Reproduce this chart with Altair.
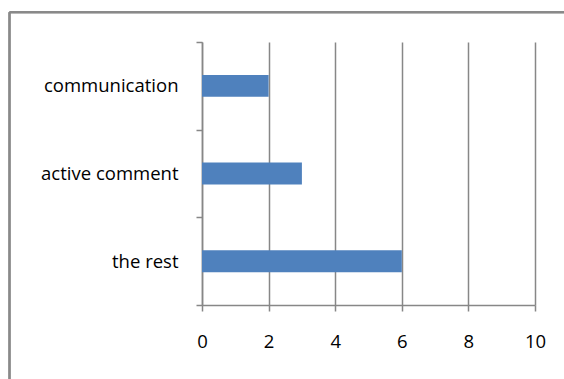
import altair as alt
import pandas as pd

categories = ["communication", "active comment", "the rest"]
values = [2, 3, 6]
x_ticks = [0, 2, 4, 6, 8, 10]

n = len(categories)
df = pd.DataFrame({
    "category": categories,
    "value": values,
    "idx": [n - 1 - i for i in range(n)],
})

label_expr = " : ".join(
    f"datum.value == {n - 1 - i} ? '{c}'" for i, c in enumerate(categories)
) + " : ''"

GRAY = "#878787"
FONT = "Open Sans"
W, H = 333, 263
LEFT, TOP = 202, 42
TOTAL_W, TOTAL_H = 564, 379
RIGHT = TOTAL_W - LEFT - W
BOTTOM = TOTAL_H - TOP - H

bars = alt.Chart(df).transform_calculate(
    lo="datum.idx + 0.375", hi="datum.idx + 0.625"
).mark_bar(color="#4F81BD").encode(
    x=alt.X("value:Q",
            scale=alt.Scale(domain=[0, 10], nice=False),
            axis=alt.Axis(values=x_ticks, title=None, grid=True,
                          gridColor=GRAY, gridWidth=1.5,
                          domainColor=GRAY, domainWidth=1.5,
                          tickColor=GRAY, tickWidth=1.5, tickSize=6,
                          labelFont=FONT, labelFontSize=18.5,
                          labelColor="#000000", labelPadding=21,
                          labelFlush=False)),
    x2=alt.value(0),
    y=alt.Y("lo:Q", scale=alt.Scale(domain=[0, n], nice=False, zero=True),
            axis=alt.Axis(values=list(range(n + 1)), title=None, grid=False,
                          labelExpr=label_expr, labelOffset=-H / n / 2,
                          domainColor=GRAY, domainWidth=1.5,
                          tickColor=GRAY, tickWidth=1.5, tickSize=6,
                          labelFont=FONT, labelFontSize=18.5,
                          labelColor="#000000", labelPadding=18,
                          labelFlush=False)),
    y2="hi:Q",
)

frame_left = alt.Chart(df).mark_rule(stroke="#898989", strokeWidth=2).encode(
    x=alt.value(9.5 - LEFT), y=alt.value(12.3 - TOP), y2=alt.value(H + BOTTOM),
)
frame_top = alt.Chart(df).mark_rule(stroke="#898989", strokeWidth=2).encode(
    x=alt.value(9.5 - LEFT), x2=alt.value(W + RIGHT), y=alt.value(12.3 - TOP),
)

chart = alt.layer(frame_left, frame_top, bars).properties(
    width=W, height=H,
    autosize=alt.AutoSizeParams(type="none"),
    padding={"left": LEFT, "top": TOP, "right": RIGHT, "bottom": BOTTOM},
    background="white",
).configure_view(stroke=None)

chart.save("out.html", embed_options={"renderer": "svg", "actions": False})
